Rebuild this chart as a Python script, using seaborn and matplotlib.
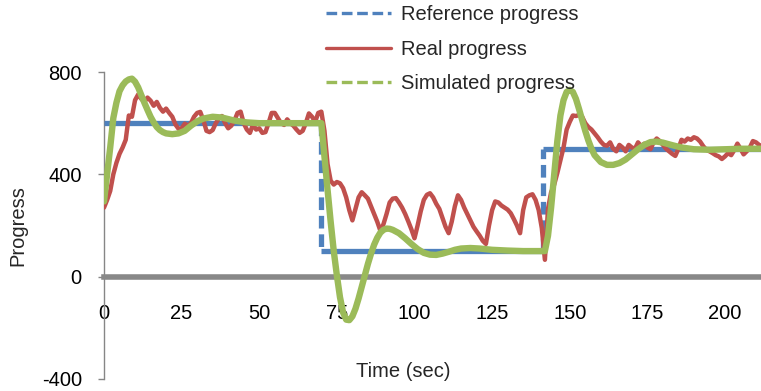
import matplotlib
matplotlib.use("Agg")
import matplotlib.pyplot as plt
import seaborn as sns
import pandas as pd
from matplotlib.collections import LineCollection
from matplotlib.lines import Line2D

# Reference progress (step changes)
ref_time = [0, 70, 70, 141.5, 141.5, 212]
ref_value = [600, 600, 100, 100, 500, 500]

# Real progress, one sample per second (0..212 s)
real_time = list(range(213))
real_value = [
    270, 300, 335, 400, 445, 480, 505, 535, 630, 625,
    690, 712, 695, 683, 700, 688, 668, 683, 660, 645,
    657, 640, 625, 595, 578, 580, 598, 590, 600, 625,
    640, 644, 612, 570, 565, 573, 600, 618, 628, 600,
    580, 590, 610, 640, 645, 600, 575, 562, 595, 575,
    580, 562, 565, 600, 640, 640, 620, 600, 593, 615,
    600, 590, 575, 562, 570, 600, 638, 625, 605, 640,
    645, 570, 440, 375, 360, 370, 365, 346, 310, 260,
    220, 265, 310, 330, 318, 305, 275, 245, 215, 180,
    205, 245, 290, 305, 307, 290, 270, 245, 216, 185,
    150, 200, 255, 300, 320, 326, 310, 285, 265, 230,
    195, 170, 215, 275, 318, 300, 270, 245, 220, 195,
    177, 160, 140, 128, 200, 260, 294, 290, 278, 270,
    262, 248, 225, 200, 170, 260, 310, 318, 322, 300,
    260, 190, 66, 265, 330, 360, 405, 455, 505, 575,
    605, 630, 628, 632, 625, 600, 585, 575, 560, 545,
    528, 515, 512, 525, 500, 490, 515, 505, 490, 515,
    505, 500, 525, 510, 520, 505, 498, 525, 540, 530,
    515, 500, 490, 480, 472, 500, 535, 528, 540, 535,
    545, 540, 528, 510, 496, 490, 483, 475, 470, 460,
    470, 483, 475, 495, 520, 500, 478, 490, 505, 530,
    525, 515, 510,
]

# Simulated progress
sim_time = [
    0, 1, 2, 3, 4, 5, 6, 7, 8, 9, 10, 11, 12, 13, 14, 15, 16, 17, 18, 19,
    20, 22, 24, 26, 28, 30, 32, 35, 38, 42, 46, 50, 55, 60, 65, 70,
    71, 72, 73, 74, 75, 76, 77, 78, 79, 80, 81, 82, 83, 84, 85, 86, 87, 88,
    89, 90, 91, 92, 93, 95, 97, 99, 101, 103, 105, 107, 109, 111, 113, 115,
    118, 121, 125, 130, 135, 142,
    143, 144, 145, 146, 147, 148, 149, 150, 151, 152, 153, 154, 155, 156,
    157, 158, 160, 162, 164, 166, 168, 170, 172, 174, 176, 178, 180, 183,
    186, 190, 195, 200, 205, 212,
]
sim_value = [
    294, 400, 505, 620, 680, 725, 748, 763, 771, 774, 762, 740, 710, 680, 652, 625, 603, 585, 573, 565,
    560, 557, 560, 570, 590, 607, 618, 625, 622, 610, 603, 600, 600, 600, 600, 600,
    470, 340, 215, 100, 5, -80, -140, -168, -170, -155, -125, -85, -40, 5, 50, 90, 125, 152,
    172, 183, 188, 187, 183, 170, 150, 128, 108, 93, 86, 85, 90, 97, 105, 110,
    112, 110, 105, 102, 100, 100,
    160, 270, 400, 530, 630, 690, 722, 730, 722, 695, 655, 612, 570, 532,
    500, 475, 448, 437, 437, 444, 458, 478, 498, 515, 526, 528, 524, 514,
    505, 498, 496, 498, 500, 500,
]

blue = "#4F81BD"
red = "#C0504D"
green = "#9BBB59"
axis_gray = "#868686"
fs = 14.5

sns.set_style("white")
plt.rcParams["font.family"] = ["Liberation Sans", "DejaVu Sans"]
plt.rcParams["axes.unicode_minus"] = False

fig = plt.figure(figsize=(7.61, 3.91), dpi=100)
ax = fig.add_axes([104 / 761, 12 / 391, 657 / 761, 307 / 391])

# Reference: flat parts solid, jumps dashed (like the Excel export)
segs, styles = [], []
for i in range(len(ref_time) - 1):
    segs.append([(ref_time[i], ref_value[i]), (ref_time[i + 1], ref_value[i + 1])])
    styles.append("-" if ref_value[i] == ref_value[i + 1] else (0, (2.4, 1.1)))
ax.add_collection(LineCollection(segs, colors=blue, linewidths=3.8,
                                 linestyles=styles, zorder=3, capstyle="butt"))

real_df = pd.DataFrame({"time": real_time, "progress": real_value})
sim_df = pd.DataFrame({"time": sim_time, "progress": sim_value})

sns.lineplot(data=real_df, x="time", y="progress", color=red, lw=3.2,
             ax=ax, zorder=4, solid_joinstyle="round", solid_capstyle="round")
sns.lineplot(data=sim_df, x="time", y="progress", color=green, lw=4.6,
             ax=ax, zorder=5, solid_joinstyle="round", solid_capstyle="round")

ax.set_xlim(0, 211.6)
ax.set_ylim(-400, 800)
ax.set_xticks([0, 25, 50, 75, 100, 125, 150, 175, 200])
ax.set_yticks([-400, 0, 400, 800])

for s in ["top", "right"]:
    ax.spines[s].set_visible(False)
ax.spines["left"].set_color(axis_gray)
ax.spines["left"].set_linewidth(1.0)
ax.spines["bottom"].set_position(("data", 0))
ax.spines["bottom"].set_color("#888888")
ax.spines["bottom"].set_linewidth(4.0)
ax.spines["bottom"].set_zorder(2.5)

ax.tick_params(axis="y", left=True, length=4, width=1, color=axis_gray,
               pad=12, labelsize=fs, labelcolor="black")
ax.tick_params(axis="x", bottom=True, length=0, pad=20, labelsize=fs,
               labelcolor="black")

ax.set_xlabel("Time (sec)", fontsize=fs)
ax.set_ylabel("Progress", fontsize=fs)
ax.xaxis.set_label_coords(0.455, 0.023)
ax.xaxis.label.set_va("center")
ax.yaxis.set_label_coords(-0.131, 0.50)
ax.yaxis.label.set_va("center")

handles = [
    Line2D([], [], color=blue, lw=2.4, ls=(0, (3.2, 1.4))),
    Line2D([], [], color=red, lw=2.4),
    Line2D([], [], color=green, lw=2.4, ls=(0, (3.2, 1.4))),
]
labels = ["Reference progress", "Real progress", "Simulated progress"]
fig.legend(handles, labels, loc="upper left", bbox_to_anchor=(326 / 761, 1 - 5 / 391),
           frameon=False, fontsize=fs, handlelength=3.25, handletextpad=0.45,
           labelspacing=0.78, borderpad=0, borderaxespad=0)

fig.savefig("out.png", dpi=100)
